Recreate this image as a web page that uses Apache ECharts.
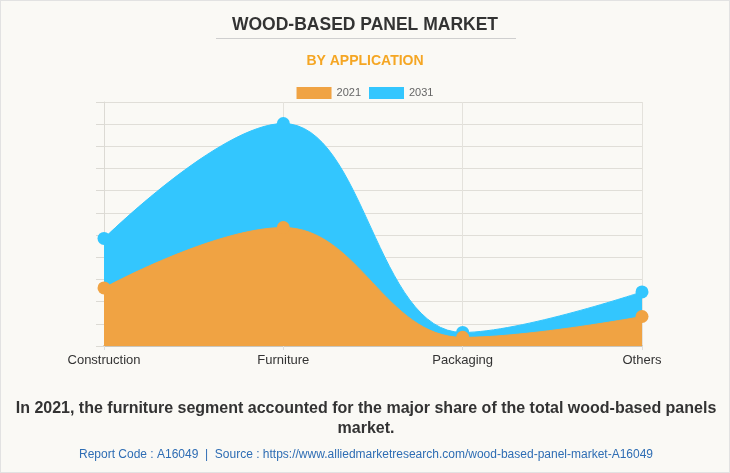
<!DOCTYPE html>
<html><head><meta charset="utf-8">
<script src="https://cdn.jsdelivr.net/npm/echarts@6/dist/echarts.min.js"></script>
<style>html,body{margin:0;padding:0;background:#faf9f5}#c{width:730px;height:473px;box-sizing:border-box;border:1px solid #e2e2e2}</style>
</head><body><div id="c"></div>
<script>
const categories = ["Construction", "Furniture", "Packaging", "Others"];
const values2021 = [2.62, 5.34, 0.39, 1.33];
const values2031 = [4.85, 10.03, 0.61, 2.44];
const seriesNames = ["2021", "2031"];

const chart = echarts.init(document.getElementById('c'));
const FONT = '"Liberation Sans", Arial, sans-serif';
chart.setOption({
  backgroundColor: '#faf9f5',
  animation: false,
  title: [
    {text: 'WOOD-BASED PANEL MARKET', left: 'center', top: 10,
     textStyle: {fontFamily: FONT, fontSize: 17.5, fontWeight: 'bold', color: '#333'}},
    {text: 'BY APPLICATION', left: 'center', top: 48,
     textStyle: {fontFamily: FONT, fontSize: 14, fontWeight: 'bold', color: '#f5a623'}}
  ],
  graphic: [
    {type: 'line', shape: {x1: 215, y1: 37.5, x2: 515, y2: 37.5}, style: {stroke: '#cfcfcf', lineWidth: 1}},
    {type: 'text', x: 365, y: 408, style: {text: 'In 2021, the furniture segment accounted for the major share of the total wood-based panels',
      fontFamily: FONT, fontSize: 16, fontWeight: 'bold', fill: '#333', textAlign: 'center', textVerticalAlign: 'middle'}},
    {type: 'text', x: 365, y: 428, style: {text: 'market.',
      fontFamily: FONT, fontSize: 16, fontWeight: 'bold', fill: '#333', textAlign: 'center', textVerticalAlign: 'middle'}},
    {type: 'text', x: 365, y: 454, style: {text: 'Report Code : A16049  |  Source : https://www.alliedmarketresearch.com/wood-based-panel-market-A16049',
      fontFamily: FONT, fontSize: 12, fill: '#2e6db4', textAlign: 'center', textVerticalAlign: 'middle'}}
  ],
  legend: {
    data: seriesNames, top: 81, left: 'center', itemWidth: 35, itemHeight: 12, itemGap: 8,
    icon: 'rect',
    textStyle: {fontFamily: FONT, fontSize: 11, color: '#666'}
  },
  grid: {left: 103, right: 87, top: 101, bottom: 126},
  xAxis: {
    type: 'category', data: categories, boundaryGap: false,
    axisLine: {lineStyle: {color: '#c9c6bd', width: 2}},
    axisTick: {show: true, length: 4, lineStyle: {color: '#ddd'}},
    axisLabel: {fontFamily: FONT, fontSize: 13, color: '#333', margin: 8},
    splitLine: {show: true, lineStyle: {color: '#e4e2dc'}}
  },
  yAxis: {
    type: 'value', min: 0, max: 11, interval: 1,
    axisLabel: {show: false},
    axisLine: {show: true, lineStyle: {color: '#dcdad4'}},
    axisTick: {show: true, length: 8, lineStyle: {color: '#dcdad4'}},
    splitLine: {lineStyle: {color: '#e0ded8'}}
  },
  series: [
    {name: '2031', type: 'line', data: values2031, smooth: 0.4, symbol: 'circle', symbolSize: 13,
     itemStyle: {color: '#33c6fe'}, lineStyle: {color: '#33c6fe', width: 1},
     areaStyle: {color: '#33c6fe', opacity: 1}, z: 2},
    {name: '2021', type: 'line', data: values2021, smooth: 0.4, symbol: 'circle', symbolSize: 13,
     itemStyle: {color: '#f0a343'}, lineStyle: {color: '#f0a343', width: 1},
     areaStyle: {color: '#f0a343', opacity: 1}, z: 3}
  ]
});
</script></body></html>
